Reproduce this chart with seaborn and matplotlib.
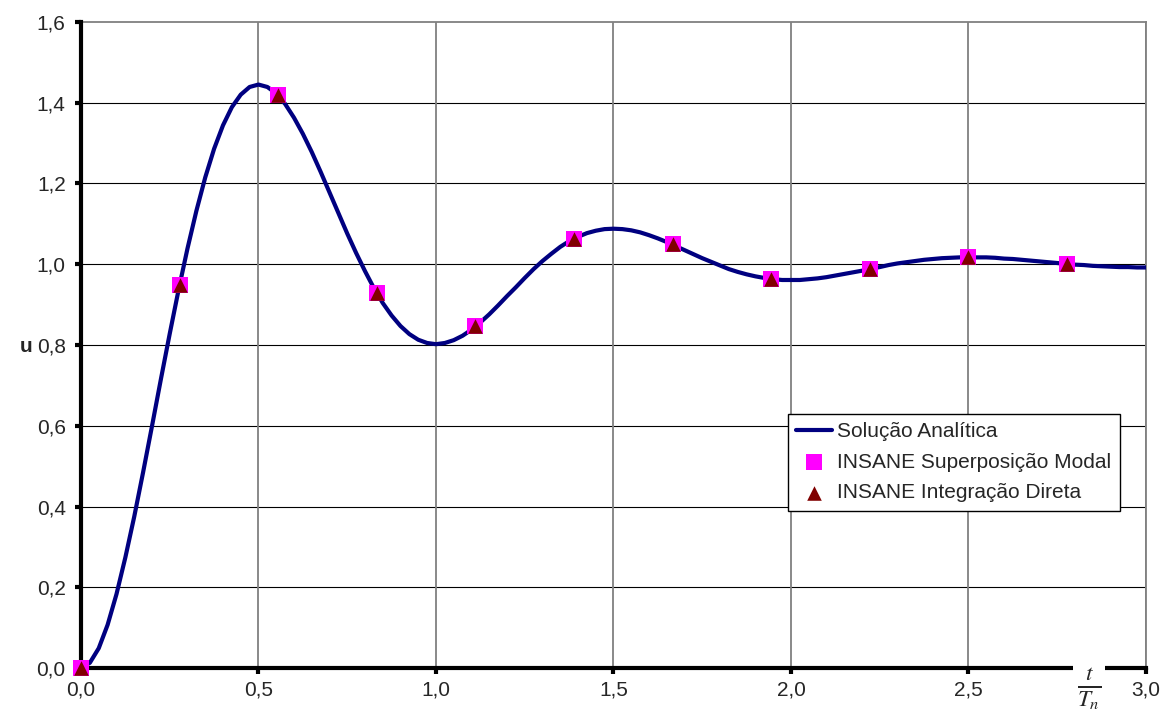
import matplotlib
matplotlib.use("Agg")
import matplotlib.pyplot as plt
import seaborn as sns
import pandas as pd

# curva analítica (passo 0,025)
x_curva = [i * 0.025 for i in range(121)]
u_curva = [0.000, 0.013, 0.049, 0.107, 0.183, 0.274, 0.375, 0.485, 0.599, 0.715,
           0.828, 0.937, 1.039, 1.132, 1.215, 1.286, 1.344, 1.389, 1.420, 1.439,
           1.445, 1.439, 1.423, 1.397, 1.363, 1.323, 1.278, 1.229, 1.178, 1.127,
           1.076, 1.028, 0.983, 0.941, 0.904, 0.873, 0.847, 0.827, 0.813, 0.805,
           0.802, 0.805, 0.812, 0.823, 0.838, 0.856, 0.876, 0.898, 0.921, 0.943,
           0.966, 0.988, 1.008, 1.026, 1.043, 1.057, 1.068, 1.077, 1.083, 1.087,
           1.088, 1.087, 1.084, 1.079, 1.072, 1.064, 1.055, 1.045, 1.035, 1.025,
           1.015, 1.006, 0.997, 0.988, 0.981, 0.975, 0.970, 0.966, 0.963, 0.961,
           0.961, 0.961, 0.963, 0.965, 0.968, 0.972, 0.976, 0.980, 0.984, 0.989,
           0.993, 0.998, 1.002, 1.005, 1.008, 1.011, 1.013, 1.015, 1.016, 1.017,
           1.017, 1.017, 1.017, 1.016, 1.014, 1.013, 1.011, 1.009, 1.007, 1.005,
           1.003, 1.001, 0.999, 0.998, 0.996, 0.995, 0.994, 0.993, 0.993, 0.992,
           0.992]

# pontos do INSANE
x_pontos = [0.0, 0.2778, 0.5556, 0.8333, 1.1111, 1.3889, 1.6667, 1.9444, 2.2222, 2.5, 2.7778]
u_modal = [0.0, 0.948, 1.420, 0.929, 0.846, 1.063, 1.049, 0.964, 0.988, 1.017, 1.001]
u_direta = [0.0, 0.948, 1.420, 0.929, 0.846, 1.063, 1.049, 0.964, 0.988, 1.017, 1.001]

xticks = [0.0, 0.5, 1.0, 1.5, 2.0, 2.5, 3.0]
xtick_labels = ["0,0", "0,5", "1,0", "1,5", "2,0", "2,5", "3,0"]
yticks = [0.0, 0.2, 0.4, 0.6, 0.8, 1.0, 1.2, 1.4, 1.6]
ytick_labels = ["0,0", "0,2", "0,4", "0,6", "0,8", "1,0", "1,2", "1,4", "1,6"]

sns.set_style("white")
plt.rcParams["font.family"] = ["Liberation Sans", "DejaVu Sans"]
plt.rcParams["mathtext.fontset"] = "stix"

fig = plt.figure(figsize=(11.67, 7.18), dpi=100)
ax = fig.add_axes([0.0694, 0.0696, 0.9126, 0.8998])

df_curva = pd.DataFrame({"x": x_curva, "u": u_curva})
df_pts = pd.DataFrame({"x": x_pontos, "modal": u_modal, "direta": u_direta})

sns.lineplot(data=df_curva, x="x", y="u", ax=ax, color="#000080", linewidth=3,
             label="Solução Analítica", zorder=3)
sns.scatterplot(data=df_pts, x="x", y="modal", ax=ax, marker="s", s=120,
                color="#FF00FF", linewidth=0, label="INSANE Superposição Modal",
                zorder=7, clip_on=False)
sns.scatterplot(data=df_pts, x="x", y="direta", ax=ax, marker="^", s=110,
                color="#800000", linewidth=0, label="INSANE Integração Direta",
                zorder=8, clip_on=False)

ax.set_xlim(0, 3.0)
ax.set_ylim(0, 1.6)
ax.set_xticks(xticks)
ax.set_xticklabels(xtick_labels)
ax.set_yticks(yticks)
ax.set_yticklabels(ytick_labels)
ax.set_xlabel("")
ax.set_ylabel("")

for t in ax.get_yticks():
    if 0 < t < 1.6:
        ax.axhline(t, color="black", linewidth=0.8, zorder=1)
for t in ax.get_xticks():
    if 0 < t:
        ax.axvline(t, color="#808080", linewidth=1.3, zorder=1)

for lado in ["top", "right"]:
    ax.spines[lado].set_color("#808080")
    ax.spines[lado].set_linewidth(1.3)
for lado in ["left", "bottom"]:
    ax.spines[lado].set_color("black")
    ax.spines[lado].set_linewidth(3)
    ax.spines[lado].set_zorder(6)

ax.tick_params(axis="both", direction="out", length=4, width=3, color="black",
               labelsize=15, pad=7, left=True, bottom=True)
ax.tick_params(axis="x", pad=5)

# rótulos dos eixos
fig.text(20 / 1167, 1 - 346 / 718, "u", fontsize=15, fontweight="bold",
         ha="left", va="center")
ax.text(2.84, -0.052, r"$\frac{t}{T_n}$", fontsize=24, ha="center", va="center",
        bbox=dict(facecolor="white", edgecolor="none", pad=3), zorder=9,
        clip_on=False)

leg = ax.legend(loc="upper left", bbox_to_anchor=(0.664, 0.393), fontsize=15,
                frameon=True, fancybox=False, edgecolor="black", framealpha=1,
                handlelength=1.7, handletextpad=0.25, borderpad=0.4,
                labelspacing=0.55, borderaxespad=0)
leg.get_frame().set_linewidth(1.0)
leg.set_zorder(10)

fig.savefig("out.png", dpi=100)
